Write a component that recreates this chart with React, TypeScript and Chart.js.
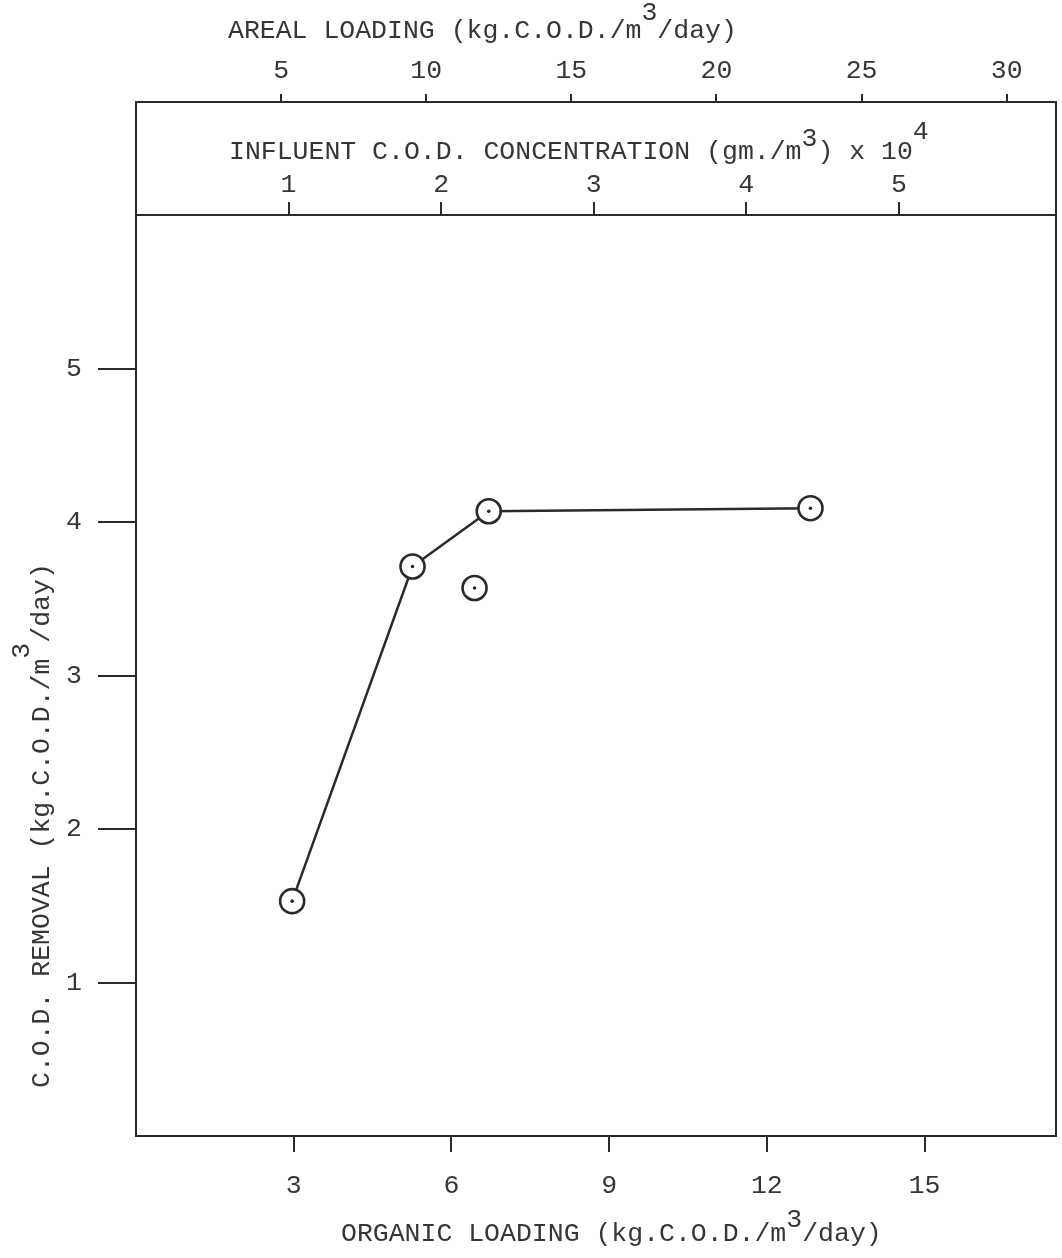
import React, { useEffect, useRef } from "react";
import { Chart, registerables } from "chart.js";

Chart.register(...registerables);

// ---- data ----
const lineOrganic = [2.97, 5.26, 6.71, 12.83];
const lineRemoval = [1.53, 3.71, 4.07, 4.09];
const extraOrganic = [6.44];
const extraRemoval = [3.57];

const organicTicks = [3, 6, 9, 12, 15];
const removalTicks = [1, 2, 3, 4, 5];
const arealTicks = [5, 10, 15, 20, 25, 30];
const influentTicks = [1, 2, 3, 4, 5];

// title segments: [text, raise in px]
const arealTitle: [string, number][] = [["AREAL LOADING (kg.C.O.D./m", 0], ["3", 18], ["/day)", 0]];
const influentTitle: [string, number][] = [["INFLUENT C.O.D. CONCENTRATION (gm./m", 0], ["3", 13], [") x 10", 0], ["4", 20]];
const organicTitle: [string, number][] = [["ORGANIC LOADING (kg.C.O.D./m", 0], ["3", 14], ["/day)", 0]];
const removalTitle: [string, number][] = [["C.O.D. REMOVAL (kg.C.O.D./m", 0], ["3", 20], ["/day)", 0]];

const FAMILY = "'Liberation Mono', 'DejaVu Sans Mono', monospace";
const FSIZE = 26.5;
const TEXT = "#363636";
const LINE = "#2a2a2a";

function drawRich(ctx: CanvasRenderingContext2D, segs: [string, number][], x: number, y: number) {
  let cx = x;
  for (const [t, r] of segs) {
    ctx.fillText(t, cx, y - r);
    cx += ctx.measureText(t).width;
  }
}

const framePlugin = {
  id: "frameAndTitles",
  afterDraw(chart: any) {
    const { ctx, chartArea: a, scales } = chart;
    const xa = scales.xa;
    const xi = scales.xi;
    const xb = scales.x;
    const yl = scales.y;
    ctx.save();
    ctx.strokeStyle = LINE;
    ctx.lineWidth = 2;
    ctx.strokeRect(a.left, xa.bottom, a.right - a.left, a.bottom - xa.bottom);
    ctx.beginPath();
    ctx.moveTo(a.left, a.top);
    ctx.lineTo(a.right, a.top);
    ctx.stroke();

    ctx.fillStyle = TEXT;
    ctx.font = `${FSIZE}px ${FAMILY}`;
    ctx.textAlign = "left";
    ctx.textBaseline = "alphabetic";
    drawRich(ctx, arealTitle, a.left + 92, xa.top + 37.5);
    drawRich(ctx, influentTitle, a.left + 93, xi.top + 57);
    drawRich(ctx, organicTitle, a.left + 205, xb.bottom - 17.5);

    ctx.translate(yl.left + 48.5, a.bottom - 48);
    ctx.rotate(-Math.PI / 2);
    drawRich(ctx, removalTitle, 0, 0);
    ctx.restore();
  },
};

function tickSetter(values: number[]) {
  return (scale: any) => {
    scale.ticks = values.map((v) => ({ value: v }));
  };
}

export default function App() {
  const ref = useRef<HTMLCanvasElement | null>(null);

  useEffect(() => {
    document.body.style.margin = "0";
    document.body.style.background = "#ffffff";
    const canvas = ref.current;
    if (!canvas) return;

    const linePts = lineOrganic.map((x, i) => ({ x, y: lineRemoval[i] }));
    const extraPts = extraOrganic.map((x, i) => ({ x, y: extraRemoval[i] }));
    const allPts = [...linePts, ...extraPts];

    const font = { family: FAMILY, size: FSIZE, lineHeight: 1.2 };

    const chart = new Chart(canvas, {
      type: "scatter",
      data: {
        datasets: [
          {
            label: "centres",
            data: allPts,
            pointRadius: 1.8,
            pointBackgroundColor: LINE,
            pointBorderWidth: 0,
            showLine: false,
            order: 0,
          },
          {
            label: "single",
            data: extraPts,
            pointRadius: 12,
            pointBackgroundColor: "#ffffff",
            pointBorderColor: LINE,
            pointBorderWidth: 2.6,
            showLine: false,
            order: 1,
          },
          {
            label: "removal",
            data: linePts,
            showLine: true,
            borderColor: LINE,
            borderWidth: 2.5,
            pointRadius: 12,
            pointBackgroundColor: "#ffffff",
            pointBorderColor: LINE,
            pointBorderWidth: 2.6,
            tension: 0,
            order: 2,
          },
        ],
      },
      options: {
        animation: false,
        responsive: false,
        maintainAspectRatio: false,
        layout: { autoPadding: false, padding: { left: 0, right: 6, top: 0, bottom: 0 } },
        plugins: { legend: { display: false }, tooltip: { enabled: false }, title: { display: false } },
        scales: {
          x: {
            type: "linear",
            position: "bottom",
            min: 0,
            max: 17.5,
            afterBuildTicks: tickSetter(organicTicks),
            afterFit: (s: any) => { s.height = 122; },
            grid: { drawOnChartArea: false, drawTicks: true, tickLength: 16, color: LINE, lineWidth: 2 },
            border: { display: false },
            ticks: { color: TEXT, font, padding: 18, maxRotation: 0, autoSkip: false, callback: (v: any) => String(v) },
          },
          y: {
            type: "linear",
            position: "left",
            min: 0,
            max: 6,
            afterBuildTicks: tickSetter(removalTicks),
            afterFit: (s: any) => { s.width = 136; },
            grid: { drawOnChartArea: false, drawTicks: true, tickLength: 38, color: LINE, lineWidth: 2 },
            border: { display: false },
            ticks: { color: TEXT, font, padding: 16, autoSkip: false, callback: (v: any) => String(v) },
          },
          xi: {
            type: "linear",
            position: "top",
            weight: 1,
            min: 0,
            max: 6.03,
            afterBuildTicks: tickSetter(influentTicks),
            afterFit: (s: any) => { s.height = 113; },
            grid: { drawOnChartArea: false, drawTicks: true, tickLength: 13, color: LINE, lineWidth: 2 },
            border: { display: false },
            ticks: { color: TEXT, font, padding: 1, maxRotation: 0, autoSkip: false, callback: (v: any) => String(v) },
          },
          xa: {
            type: "linear",
            position: "top",
            weight: 2,
            min: 0,
            max: 31.7,
            afterBuildTicks: tickSetter(arealTicks),
            afterFit: (s: any) => { s.height = 102; },
            grid: { drawOnChartArea: false, drawTicks: true, tickLength: 8, color: LINE, lineWidth: 2 },
            border: { display: false },
            ticks: { color: TEXT, font, padding: 7, maxRotation: 0, autoSkip: false, callback: (v: any) => String(v) },
          },
        },
      } as any,
      plugins: [framePlugin],
    });

    return () => chart.destroy();
  }, []);

  return (
    <div style={{ width: 1062, height: 1258, background: "#fff" }}>
      <canvas ref={ref} width={1062} height={1258} style={{ display: "block" }} />
    </div>
  );
}
